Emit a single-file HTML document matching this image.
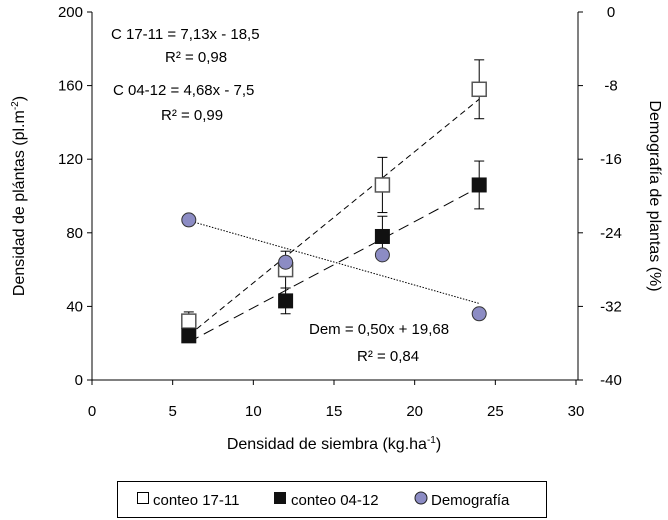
<!DOCTYPE html>
<html><head><meta charset="utf-8"><style>
body{margin:0;background:#fff}
svg{display:block;font-family:"Liberation Sans",Arial,sans-serif}
</style></head><body>
<svg id="chart" width="668" height="520" viewBox="0 0 668 520">
<g id="axes"></g><g id="marks"></g>
<text x="24" y="196" font-size="16" text-anchor="middle" transform="rotate(-90 24 196)">Densidad de plántas (pl.m<tspan dy="-6" font-size="10">-2</tspan><tspan dy="6">)</tspan></text>
<text x="650" y="196" font-size="16" text-anchor="middle" transform="rotate(90 650 196)">Demografía de plantas (%)</text>
<text x="334" y="449" font-size="16" text-anchor="middle">Densidad de siembra (kg.ha<tspan dy="-6" font-size="10">-1</tspan><tspan dy="6">)</tspan></text>
<g font-size="15">
<text x="111" y="39">C 17-11 = 7,13x   - 18,5</text>
<text x="165" y="62">R² = 0,98</text>
<text x="113" y="95">C 04-12 = 4,68x   - 7,5</text>
<text x="161" y="120">R² = 0,99</text>
<text x="309" y="334">Dem = 0,50x + 19,68</text>
<text x="357" y="361">R² = 0,84</text>
</g>
<g>
<rect x="117.5" y="481.5" width="429" height="36" fill="#fff" stroke="#000"/>
<rect x="137.5" y="492.5" width="11" height="11" fill="#fff" stroke="#000"/>
<text x="153" y="505" font-size="15">conteo 17-11</text>
<rect x="274" y="492" width="12" height="12" fill="#111"/>
<text x="291" y="505" font-size="15">conteo 04-12</text>
<circle cx="421" cy="498" r="6" fill="#8c8cc4" stroke="#222"/>
<text x="431" y="505" font-size="15">Demografía</text>
</g>
</svg>
<script>
const xVals=[6,12,18,24];
const c1711=[32,60,106,158];
const c1711Err=[5,10,15,16];
const c0412=[24,43,78,106];
const c0412Err=[3,7,11,13];
const dem=[-22.6,-27.2,-26.4,-32.8];
const xTicks=[0,5,10,15,20,25,30];
const yTicks=[0,40,80,120,160,200];
const y2Ticks=[0,-8,-16,-24,-32,-40];
const fit1711=[7.13,-18.5];
const fit0412=[4.68,-7.5];
const fitDem=[0.5,19.68];
const NS='http://www.w3.org/2000/svg';
const L=92,R=578,T=12,B=380;
const sx=v=>L+v/30*(576-L);
const sy=v=>B-v/200*(B-T);
const sy2=v=>T+(-v)/40*(B-T);
const axes=document.getElementById('axes'),marks=document.getElementById('marks');
function mk(p,tag,a){const e=document.createElementNS(NS,tag);for(const k in a)e.setAttribute(k,a[k]);p.appendChild(e);return e;}
let e;
e=mk(axes,'line',{x1:L,y1:T,x2:L,y2:B,stroke:'#000'});


e=mk(axes,'line',{x1:R,y1:T,x2:R,y2:B,stroke:'#000'});


e=mk(axes,'line',{x1:L,y1:B,x2:R,y2:B,stroke:'#000'});


xTicks.forEach(t=>{const x=sx(t);mk(axes,'line',{x1:x,y1:B,x2:x,y2:B+5,stroke:'#000'});
e=mk(axes,'text',{x:x,y:B+36,'font-size':15,'text-anchor':'middle'});e.textContent=t;

});
yTicks.forEach(t=>{const y=sy(t);mk(axes,'line',{x1:L-5,y1:y,x2:L,y2:y,stroke:'#000'});
e=mk(axes,'text',{x:L-9,y:y+5,'font-size':15,'text-anchor':'end'});e.textContent=t;

});
y2Ticks.forEach(t=>{const y=sy2(t);mk(axes,'line',{x1:R,y1:y,x2:R+5,y2:y,stroke:'#000'});
e=mk(axes,'text',{x:R+33,y:y+5,'font-size':15,'text-anchor':'middle'});e.textContent=t;

});
const x0=xVals[0],x1=xVals[xVals.length-1];
e=mk(marks,'line',{x1:sx(x0),y1:sy(fit1711[0]*x0+fit1711[1]),x2:sx(x1),y2:sy(fit1711[0]*x1+fit1711[1]),stroke:'#000','stroke-dasharray':'6,4'});


e=mk(marks,'line',{x1:sx(x0),y1:sy(fit0412[0]*x0+fit0412[1]),x2:sx(x1),y2:sy(fit0412[0]*x1+fit0412[1]),stroke:'#000','stroke-dasharray':'11,6'});


e=mk(marks,'line',{x1:sx(x0),y1:sy2(-(fitDem[0]*x0+fitDem[1])),x2:sx(x1),y2:sy2(-(fitDem[0]*x1+fitDem[1])),stroke:'#000','stroke-dasharray':'1.5,1.5'});


function err(x,v,d){const X=sx(x);mk(marks,'line',{x1:X,y1:sy(v+d),x2:X,y2:sy(v-d),stroke:'#000'});
mk(marks,'line',{x1:X-5,y1:sy(v+d),x2:X+5,y2:sy(v+d),stroke:'#000'});mk(marks,'line',{x1:X-5,y1:sy(v-d),x2:X+5,y2:sy(v-d),stroke:'#000'});}
xVals.forEach((x,i)=>{err(x,c1711[i],c1711Err[i]);
e=mk(marks,'rect',{x:sx(x)-7,y:sy(c1711[i])-7,width:14,height:14,fill:'#fff',stroke:'#555','stroke-width':1.5});

});
xVals.forEach((x,i)=>{err(x,c0412[i],c0412Err[i]);
e=mk(marks,'rect',{x:sx(x)-7.5,y:sy(c0412[i])-7.5,width:15,height:15,fill:'#111'});

});
xVals.forEach((x,i)=>{
e=mk(marks,'circle',{cx:sx(x),cy:sy2(dem[i]),r:7,fill:'#8c8cc4',stroke:'#333'});

});
</script>
</body></html>
